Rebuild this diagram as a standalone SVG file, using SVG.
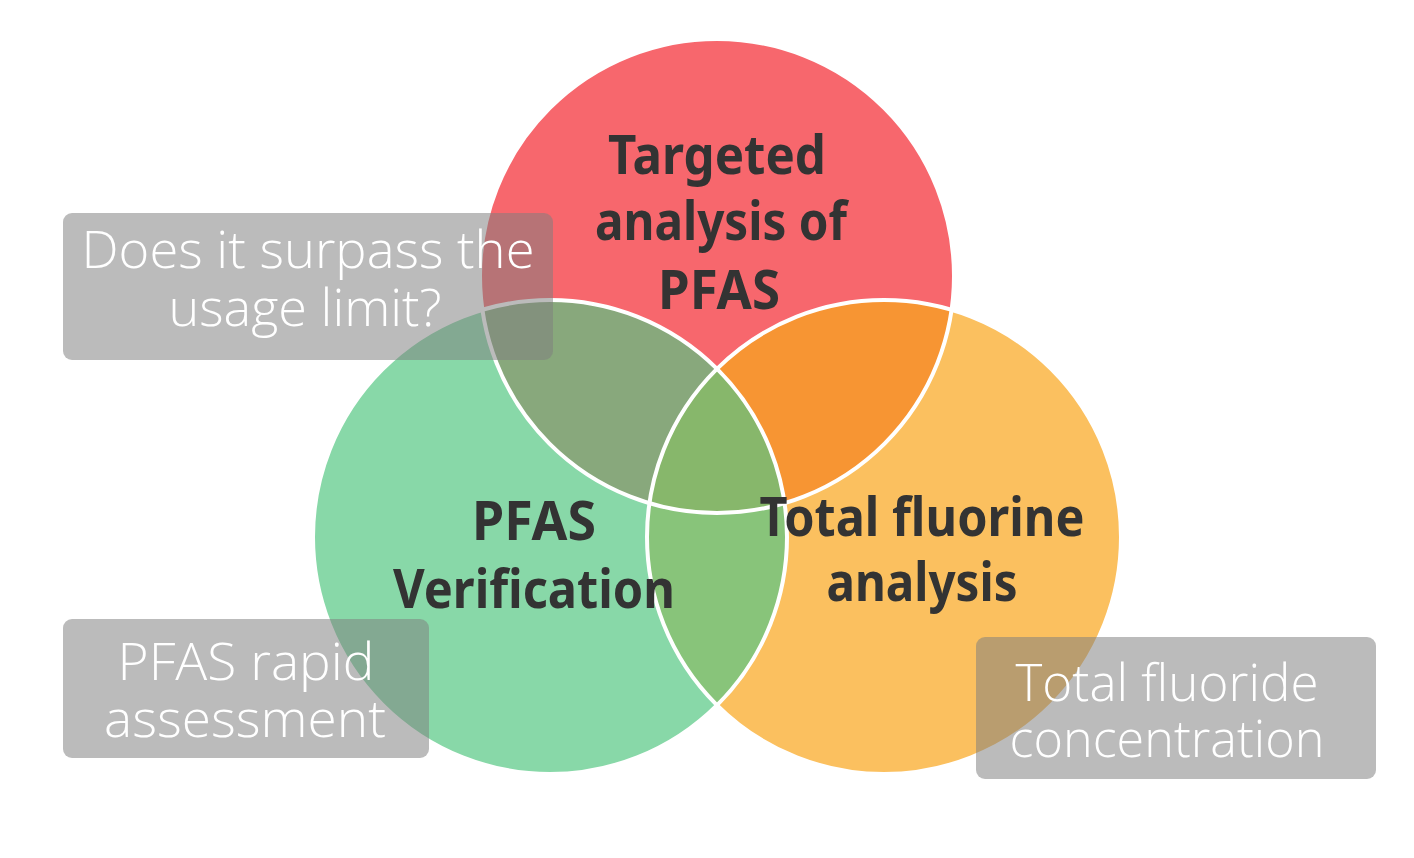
<svg xmlns="http://www.w3.org/2000/svg" width="1414" height="858" viewBox="0 0 1414 858">
<defs>
<style>
.lbl{font-family:"Noto Sans","Open Sans","DejaVu Sans",sans-serif;font-weight:700;font-size:54px;fill:#333333;text-anchor:middle}
.note{font-family:"Open Sans","Lato","Liberation Sans",sans-serif;font-weight:300;font-size:52px;fill:#ffffff;text-anchor:middle}
.box{fill:#7f7f7f;fill-opacity:0.53}
.edge{fill:none;stroke:#ffffff;stroke-width:4}
</style>
<clipPath id="cR"><circle cx="717" cy="276" r="237"/></clipPath>
<clipPath id="cG"><circle cx="550" cy="537" r="237"/></clipPath>
</defs>
<rect width="1414" height="858" fill="#ffffff"/>
<g id="circles">
<circle id="red" cx="717" cy="276" r="237" fill="#f7676d"/>
<circle id="green" cx="550" cy="537" r="237" fill="#88d8a8"/>
<circle id="orange" cx="884" cy="537" r="237" fill="#fbc05f"/>
<circle cx="550" cy="537" r="237" fill="#88a87c" clip-path="url(#cR)"/>
<circle cx="884" cy="537" r="237" fill="#f79533" clip-path="url(#cR)"/>
<circle cx="884" cy="537" r="237" fill="#88c47a" clip-path="url(#cG)"/>
<g clip-path="url(#cR)"><circle cx="884" cy="537" r="237" fill="#87b76b" clip-path="url(#cG)"/></g>
</g>
<g id="connectors">
<circle class="edge" cx="717" cy="276" r="237"/>
<circle class="edge" cx="550" cy="537" r="237"/>
<circle class="edge" cx="884" cy="537" r="237"/>
</g>
<g id="node-targeted">
<text class="lbl" x="717" y="174" textLength="218" lengthAdjust="spacingAndGlyphs">Targeted</text>
<text class="lbl" x="721" y="240" textLength="252" lengthAdjust="spacingAndGlyphs">analysis of</text>
<text class="lbl" x="719" y="309" textLength="122" lengthAdjust="spacingAndGlyphs">PFAS</text>
</g>
<g id="node-verification">
<text class="lbl" x="534" y="540" textLength="124" lengthAdjust="spacingAndGlyphs">PFAS</text>
<text class="lbl" x="534" y="608" textLength="282" lengthAdjust="spacingAndGlyphs">Verification</text>
</g>
<g id="node-fluorine">
<text class="lbl" x="922" y="536" textLength="325" lengthAdjust="spacingAndGlyphs">Total fluorine</text>
<text class="lbl" x="922" y="601" textLength="191" lengthAdjust="spacingAndGlyphs">analysis</text>
</g>
<g id="note-limit">
<rect class="box" x="63" y="213" width="490" height="147" rx="9"/>
<text class="note" x="308" y="268" textLength="453" lengthAdjust="spacingAndGlyphs">Does it surpass the</text>
<text class="note" x="305" y="326" textLength="273" lengthAdjust="spacingAndGlyphs">usage limit?</text>
</g>
<g id="note-rapid">
<rect class="box" x="63" y="619" width="366" height="139" rx="9"/>
<text class="note" x="246" y="680" textLength="257" lengthAdjust="spacingAndGlyphs">PFAS rapid</text>
<text class="note" x="245" y="737" textLength="282" lengthAdjust="spacingAndGlyphs">assessment</text>
</g>
<g id="note-fluoride">
<rect class="box" x="976" y="637" width="400" height="142" rx="9"/>
<text class="note" x="1167" y="701" textLength="303" lengthAdjust="spacingAndGlyphs">Total fluoride</text>
<text class="note" x="1167" y="757" textLength="315" lengthAdjust="spacingAndGlyphs">concentration</text>
</g>
</svg>
